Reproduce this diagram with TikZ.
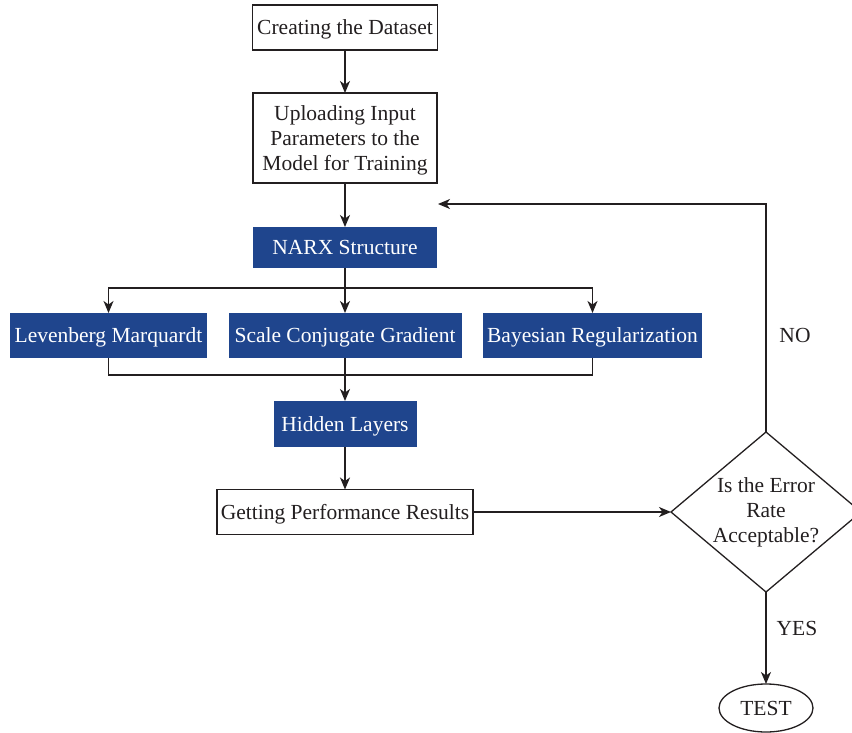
\documentclass[tikz,border=0pt]{standalone}
\usepackage{fontspec}
\setmainfont{Liberation Serif}
\usetikzlibrary{arrows.meta,shapes.geometric}
\definecolor{navy}{RGB}{31,69,141}
\definecolor{ink}{RGB}{35,31,32}
\tikzset{
  base/.style={inner sep=0pt, outer sep=0pt, font=\fontsize{21.5}{25}\selectfont, align=center, text=ink, text depth=0pt},
  wbox/.style={base, draw=ink, line width=1.3pt, fill=white},
  bbox/.style={base, fill=navy, text=white},
  arr/.style={draw=ink, line width=1.3pt, -{Stealth[length=12pt,width=10pt,inset=3.5pt]}},
  ln/.style={draw=ink, line width=1.3pt},
  lbl/.style={base}
}
\begin{document}
\begin{tikzpicture}[x=1pt,y=-1pt]
\useasboundingbox (0,0) rectangle (852,733);
\node[wbox, minimum width=185pt, minimum height=45pt] (d1) at (345,27.5) {Creating the Dataset};
\node[wbox, minimum width=184pt, minimum height=90pt] (d2) at (345,138) {Uploading Input\\Parameters to the\\Model for Training};
\node[bbox, minimum width=184pt, minimum height=41pt] (narx) at (345,247.5) {NARX Structure};
\node[bbox, minimum width=197pt, minimum height=45pt] (lm) at (108.5,335.5) {Levenberg Marquardt};
\node[bbox, minimum width=233pt, minimum height=45pt] (scg) at (345,335.5) {Scale Conjugate Gradient};
\node[bbox, minimum width=219pt, minimum height=45pt] (br) at (592.5,335.5) {Bayesian Regularization};
\node[bbox, minimum width=143pt, minimum height=46pt] (hl) at (345,424) {Hidden Layers};
\node[wbox, minimum width=256pt, minimum height=45pt] (gp) at (345,512) {Getting Performance Results};
\node[diamond, draw=ink, line width=1.3pt, inner sep=0pt, outer sep=0pt, minimum width=190pt, minimum height=160pt] (dia) at (766,512) {};
\node[lbl] (qtext) at (766,510) {Is the Error\\Rate\\Acceptable?};
\node[ellipse, draw=ink, line width=1.3pt, base, minimum width=94pt, minimum height=48pt] (test) at (766,708) {TEST};
\node[lbl] (no) at (795,335) {NO};
\node[lbl] (yes) at (797,628) {YES};
\coordinate (split) at (345,288);
\coordinate (merge) at (345,375);
\coordinate (ret) at (438,204);

\draw[arr] (d1.south) -- (d2.north);
\draw[arr] (d2.south) -- (narx.north);
\draw[arr] (narx.south) -- (scg.north);
\draw[arr] (split) -| (lm.north);
\draw[arr] (split) -| (br.north);
\draw[ln] (lm.south) |- (merge) -| (br.south);
\draw[ln] (scg.south) -- (merge);
\draw[arr] (merge) -- (hl.north);
\draw[arr] (hl.south) -- (gp.north);
\draw[arr] (gp.east) -- (dia.west);
\draw[arr] (dia.north) |- (ret);
\draw[arr] (dia.south) -- (test.north);
\end{tikzpicture}
\end{document}
